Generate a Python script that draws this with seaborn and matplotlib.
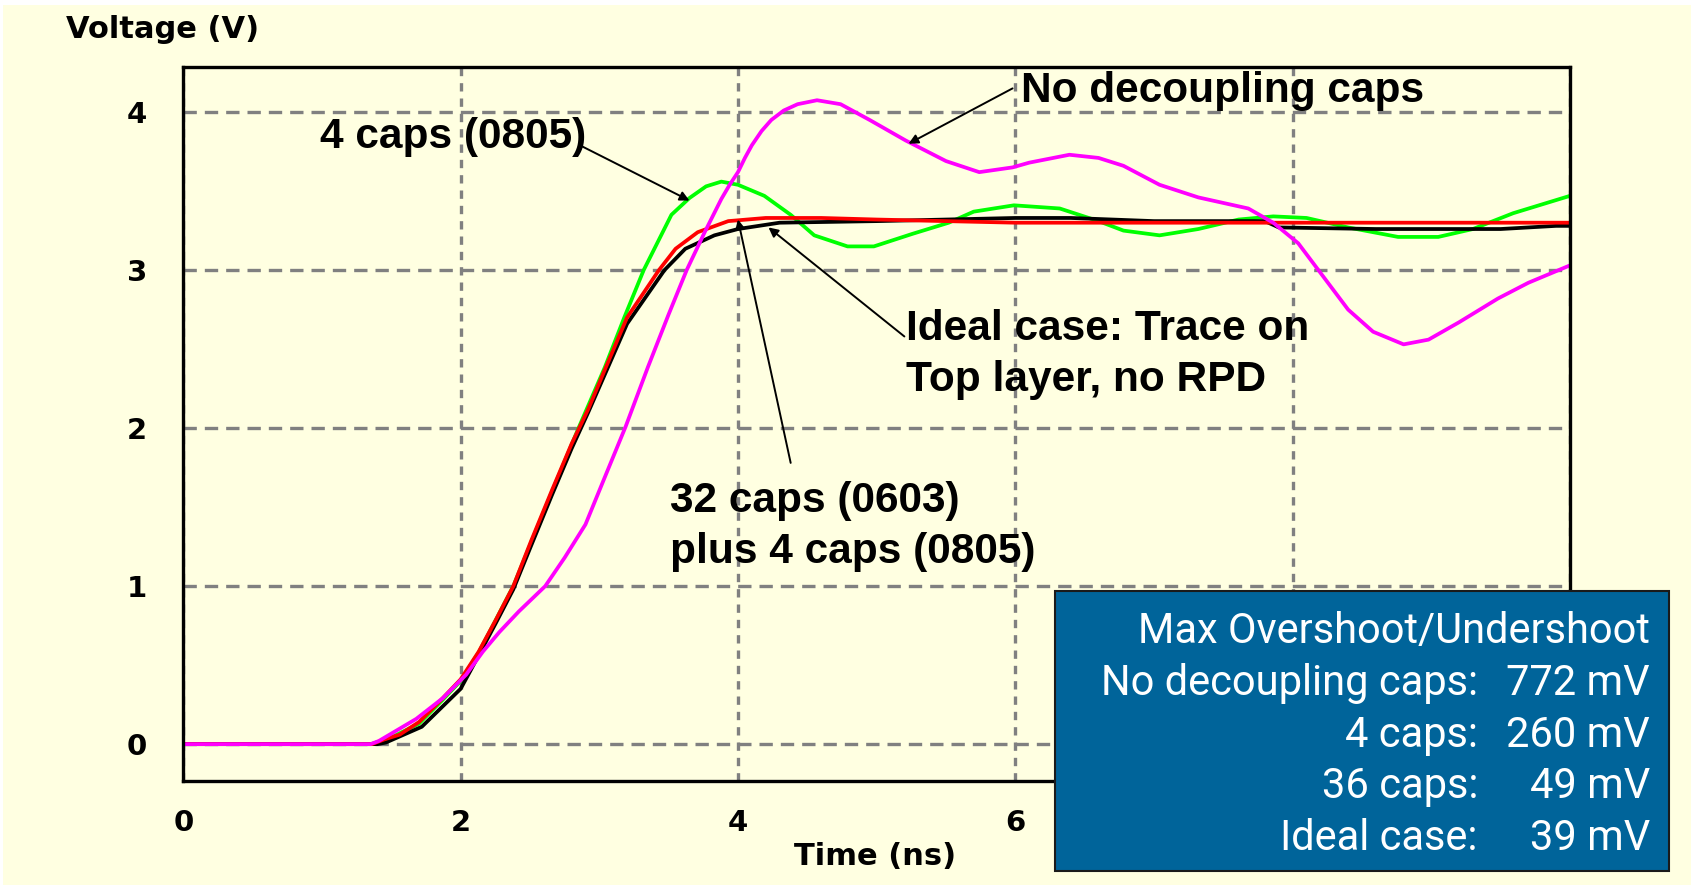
import matplotlib
matplotlib.use("Agg")
import matplotlib.pyplot as plt
from matplotlib.patches import Rectangle
import seaborn as sns
import pandas as pd

# ---------------- data ----------------
t_nodecap = [0, 1.35, 1.41, 1.68, 1.87, 2.04, 2.16, 2.28, 2.42, 2.61, 2.75, 2.90, 3.04, 3.19,
             3.35, 3.50, 3.63, 3.76, 3.88, 3.94, 4.0, 4.05, 4.10, 4.17, 4.24, 4.33, 4.43, 4.57,
             4.74, 4.95, 5.21, 5.50, 5.74, 5.98, 6.10, 6.39, 6.60, 6.78, 7.04, 7.32, 7.68, 7.86,
             8.04, 8.22, 8.40, 8.58, 8.80, 8.98, 9.20, 9.48, 9.70, 10.0]
v_nodecap = [0, 0, 0.02, 0.16, 0.29, 0.44, 0.585, 0.71, 0.84, 1.0, 1.18, 1.39, 1.69, 2.01,
             2.385, 2.72, 3.0, 3.24, 3.45, 3.54, 3.62, 3.71, 3.79, 3.88, 3.95, 4.01, 4.05, 4.075,
             4.05, 3.95, 3.82, 3.69, 3.62, 3.65, 3.68, 3.73, 3.71, 3.66, 3.54, 3.46, 3.39, 3.30,
             3.17, 2.96, 2.75, 2.61, 2.53, 2.56, 2.67, 2.82, 2.92, 3.03]

t_4caps = [0, 1.35, 1.45, 1.70, 1.87, 2.0, 2.13, 2.25, 2.38, 2.51, 2.66, 2.85, 3.04, 3.18,
           3.32, 3.52, 3.65, 3.77, 3.88, 4.0, 4.19, 4.38, 4.55, 4.79, 4.98, 5.26, 5.52, 5.70,
           5.99, 6.32, 6.60, 6.78, 7.04, 7.32, 7.61, 7.86, 8.10, 8.40, 8.76, 9.05, 9.30, 9.59, 10.0]
v_4caps = [0, 0, 0.02, 0.13, 0.28, 0.40, 0.58, 0.78, 1.0, 1.28, 1.60, 2.0, 2.385, 2.70,
           3.0, 3.35, 3.456, 3.53, 3.56, 3.54, 3.47, 3.35, 3.22, 3.15, 3.15, 3.23, 3.30, 3.37,
           3.41, 3.39, 3.31, 3.25, 3.22, 3.26, 3.32, 3.34, 3.33, 3.27, 3.21, 3.21, 3.26, 3.36, 3.47]

t_36caps = [0, 1.40, 1.46, 1.72, 2.0, 2.08, 2.25, 2.38, 2.51, 2.66, 2.80, 2.92, 3.04, 3.20,
            3.47, 3.62, 3.83, 4.0, 4.3, 5.0, 5.5, 6.0, 6.4, 7.0, 7.8, 7.9, 8.6, 9.5, 9.9, 10.0]
v_36caps = [0, 0, 0.01, 0.11, 0.35, 0.48, 0.76, 0.98, 1.26, 1.58, 1.87, 2.10, 2.34, 2.66,
            3.0, 3.135, 3.22, 3.26, 3.30, 3.31, 3.32, 3.33, 3.33, 3.31, 3.31, 3.27, 3.26, 3.26, 3.28, 3.28]

t_ideal = [0, 1.36, 1.45, 1.56, 1.70, 1.87, 2.0, 2.13, 2.25, 2.38, 2.51, 2.66, 2.80, 2.92,
           3.04, 3.20, 3.43, 3.55, 3.71, 3.93, 4.2, 4.6, 5.0, 6.0, 7.0, 8.0, 9.0, 10.0]
v_ideal = [0, 0, 0.03, 0.06, 0.14, 0.29, 0.41, 0.585, 0.78, 1.0, 1.29, 1.61, 1.90, 2.12,
           2.37, 2.70, 3.0, 3.135, 3.24, 3.31, 3.33, 3.33, 3.32, 3.30, 3.30, 3.30, 3.30, 3.30]

series_names = ["4 caps", "36 caps", "Ideal case", "No decoupling caps"]
series_colors = ["#00FF00", "#000000", "#FF0000", "#FF00FF"]

x_ticks = [0, 2, 4, 6, 8, 10]
x_tick_labels = ["0", "2", "4", "6", "", ""]   # 8 and 10 are hidden behind the box
y_ticks = [0, 1, 2, 3, 4]

box_title = "Max Overshoot/Undershoot"
box_labels = ["No decoupling caps:", "4 caps:", "36 caps:", "Ideal case:"]
box_values = ["772 mV", "260 mV", "49 mV", "39 mV"]

# ---------------- build long table ----------------
frames = []
for name, t, v in [("4 caps", t_4caps, v_4caps), ("36 caps", t_36caps, v_36caps),
                   ("Ideal case", t_ideal, v_ideal), ("No decoupling caps", t_nodecap, v_nodecap)]:
    frames.append(pd.DataFrame({"time": t, "voltage": v, "case": name}))
df = pd.concat(frames, ignore_index=True)

# ---------------- figure ----------------
W, H = 1691, 885
BG = "#FFFFE1"
fig = plt.figure(figsize=(W / 100, H / 100), dpi=100, facecolor=BG)

def fx(px):
    return px / W

def fy(py):
    return 1 - py / H

ax_l, ax_r, ax_t, ax_b = 183.3, 1570.0, 66.9, 780.8
ax = fig.add_axes([fx(ax_l), fy(ax_b), fx(ax_r - ax_l), (ax_b - ax_t) / H])
ax.set_facecolor(BG)

sns.lineplot(data=df, x="time", y="voltage", hue="case", hue_order=series_names,
             palette=dict(zip(series_names, series_colors)), estimator=None, sort=False,
             linewidth=2.7, legend=False, ax=ax, zorder=3)

ax.set_xlim(0, 10)
ax.set_ylim(-0.232, 4.286)
ax.set_xticks(x_ticks)
ax.set_yticks(y_ticks)
ax.set_xticklabels(x_tick_labels)
ax.set_yticklabels([str(v) for v in y_ticks])
ax.set_xlabel("")
ax.set_ylabel("")
ax.tick_params(axis="both", length=0, labelsize=21, colors="black")
ax.tick_params(axis="x", pad=20)
ax.tick_params(axis="y", pad=26)
for lab in ax.get_xticklabels() + ax.get_yticklabels():
    lab.set_fontweight("bold")
    lab.set_family("DejaVu Sans")

for s in ax.spines.values():
    s.set_color("black")
    s.set_linewidth(2.4)
    s.set_zorder(5)

ax.grid(True, color="#808080", linewidth=2.4, zorder=1)
ax.set_axisbelow(True)
for gl in ax.get_ygridlines():
    gl.set_linestyle((0, (4.0, 2.4)))
for gl in ax.get_xgridlines():
    gl.set_linestyle((0, (2.5, 2.1)))

# axis titles
fig.text(fx(66), fy(38), "Voltage (V)", fontsize=22, fontweight="bold",
         family="DejaVu Sans", ha="left", va="baseline")
fig.text(fx(875), fy(865), "Time (ns)", fontsize=22, fontweight="bold",
         family="DejaVu Sans", ha="center", va="baseline")

# annotations
afont = dict(fontsize=30.5, fontweight="bold", family=["Liberation Sans", "DejaVu Sans"],
             ha="left", va="baseline", color="black")
fig.text(fx(1021), fy(101.7), "No decoupling caps", **afont)
fig.text(fx(320), fy(148), "4 caps (0805)", **afont)
fig.text(fx(906), fy(340), "Ideal case: Trace on", **afont)
fig.text(fx(906), fy(391.5), "Top layer, no RPD", **afont)
fig.text(fx(670), fy(511.7), "32 caps (0603)", **afont)
fig.text(fx(670), fy(563.3), "plus 4 caps (0805)", **afont)

aprops = dict(arrowstyle="-|>", color="black", lw=1.4, mutation_scale=14,
              shrinkA=0, shrinkB=0)
for tip, tail in [((5.23, 3.80), (5.98, 4.15)),
                  ((3.65, 3.44), (2.86, 3.79)),
                  ((4.22, 3.27), (5.20, 2.58)),
                  ((4.00, 3.32), (4.38, 1.78))]:
    ax.annotate("", xy=tip, xytext=tail, arrowprops=aprops, zorder=6)

# summary box
bx0, by0, bx1, by1 = 1055, 591, 1669, 871
fig.add_artist(Rectangle((fx(bx0), fy(by1)), fx(bx1 - bx0), (by1 - by0) / H,
                         transform=fig.transFigure, facecolor="#00649A",
                         edgecolor="#1a1a1a", linewidth=1.5, zorder=10))
bfont = dict(fontsize=30, family=["Roboto", "DejaVu Sans"], color="white",
             va="baseline", zorder=11)
fig.text(fx(1650), fy(642.7), box_title, ha="right", **bfont)
baselines = [695, 746.7, 798, 850]
for lab, val, b in zip(box_labels, box_values, baselines):
    fig.text(fx(1478), fy(b), lab, ha="right", **bfont)
    fig.text(fx(1650), fy(b), val, ha="right", **bfont)

# thin white margin at top / left edge
fig.add_artist(Rectangle((0, fy(5)), 1, 5 / H, transform=fig.transFigure,
                         facecolor="white", edgecolor="none", zorder=20))
fig.add_artist(Rectangle((0, 0), fx(3), 1, transform=fig.transFigure,
                         facecolor="white", edgecolor="none", zorder=20))

fig.savefig("out.png", dpi=100, facecolor=BG)
